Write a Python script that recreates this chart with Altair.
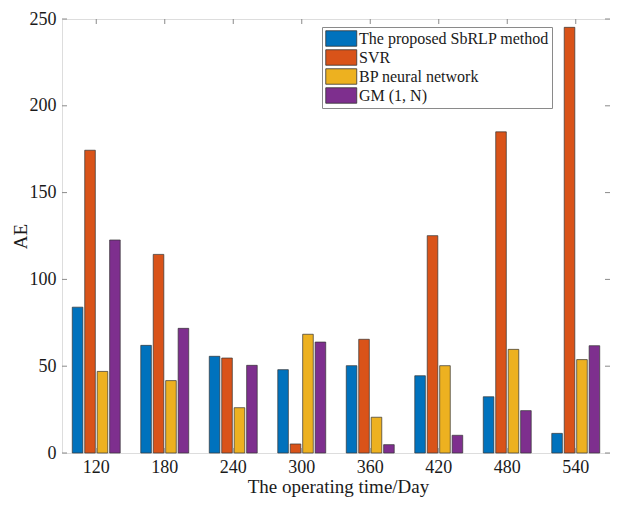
import altair as alt
import pandas as pd

days = ["120", "180", "240", "300", "360", "420", "480", "540"]
series = ["The proposed SbRLP method", "SVR", "BP neural network", "GM (1, N)"]
sbrlp = [84.0, 62.0, 55.7, 48.0, 50.3, 44.5, 32.4, 11.3]
svr = [174.4, 114.4, 54.7, 5.2, 65.5, 125.2, 185.0, 245.2]
bp = [47.0, 41.7, 26.1, 68.4, 20.6, 50.3, 59.7, 53.8]
gm = [122.7, 71.8, 50.5, 63.9, 4.8, 10.2, 24.4, 61.8]
colors = ["#0072BD", "#D95319", "#EDB120", "#7E2F8E"]
y_ticks = [0, 50, 100, 150, 200, 250]

rows = []
for name, vals in zip(series, [sbrlp, svr, bp, gm]):
    for d, v in zip(days, vals):
        rows.append({"day": d, "series": name, "AE": v})
df = pd.DataFrame(rows)
ydf = pd.DataFrame({"AE": y_ticks})
xdf = pd.DataFrame({"day": days})

W, H = 548, 434
LEFT = 62
FONT = "Liberation Serif"
FRAME = "#8a8a8a"
TXT = "#1a1a1a"

xscale = alt.Scale(domain=days, paddingInner=0.3, paddingOuter=0.15)
yscale = alt.Scale(domain=[0, 250], nice=False)

xaxis = alt.Axis(title="The operating time/Day", labelAngle=0, ticks=False, tickSize=0,
                 domain=False, labelPadding=19, labelBaseline="alphabetic",
                 labelFont=FONT, labelFontSize=18, labelColor=TXT,
                 titleFont=FONT, titleFontSize=19, titleFontWeight="normal",
                 titleColor=TXT, titleX=W / 2 + 2, titleY=39,
                 titleBaseline="alphabetic", titleAlign="center")
yaxis = alt.Axis(title="AE", values=y_ticks, grid=False, ticks=False, tickSize=0,
                 domain=False, labelPadding=6, labelFont=FONT, labelFontSize=18,
                 labelColor=TXT, titleFont=FONT, titleFontSize=19,
                 titleFontWeight="normal", titleColor=TXT, titleAngle=270,
                 titleX=26 - LEFT, titleY=H / 2, titleBaseline="alphabetic", titleAlign="center")

bars = alt.Chart(df).mark_bar(stroke="#333333", strokeWidth=0.7).encode(
    x=alt.X("day:N", scale=xscale, sort=days, axis=xaxis),
    xOffset=alt.XOffset("series:N", sort=series,
                        scale=alt.Scale(domain=series, paddingInner=0.15, paddingOuter=0)),
    y=alt.Y("AE:Q", scale=yscale, axis=yaxis),
    color=alt.Color("series:N", sort=series,
                    scale=alt.Scale(domain=series, range=colors),
                    legend=alt.Legend(title=None, orient="none", legendX=322 - LEFT, legendY=8,
                                      strokeColor=FRAME, fillColor="white", padding=3,
                                      labelFont=FONT, labelFontSize=16, labelColor=TXT,
                                      labelLimit=0, labelOffset=17, rowPadding=0,
                                      symbolType="M-1,-1H3V1H-1Z", symbolSize=240,
                                      symbolStrokeColor="#333333", symbolStrokeWidth=0.8,
                                      symbolOpacity=1)),
)

tick_y_left = alt.Chart(ydf).mark_rule(color=FRAME, strokeWidth=1).encode(
    y=alt.Y("AE:Q", scale=yscale), x=alt.value(0), x2=alt.value(5))
tick_y_right = alt.Chart(ydf).mark_rule(color=FRAME, strokeWidth=1).encode(
    y=alt.Y("AE:Q", scale=yscale), x=alt.value(W - 5), x2=alt.value(W))
tick_x_bottom = alt.Chart(xdf).mark_rule(color=FRAME, strokeWidth=1).encode(
    x=alt.X("day:N", scale=xscale, sort=days, bandPosition=0.5),
    y=alt.value(H - 5), y2=alt.value(H))
tick_x_top = alt.Chart(xdf).mark_rule(color=FRAME, strokeWidth=1).encode(
    x=alt.X("day:N", scale=xscale, sort=days, bandPosition=0.5),
    y=alt.value(0), y2=alt.value(5))

chart = alt.layer(bars, tick_y_left, tick_y_right, tick_x_bottom, tick_x_top).properties(
    width=W, height=H,
    autosize=alt.AutoSizeParams(type="none"),
    padding={"left": LEFT - 8, "top": 11, "right": 0, "bottom": 45},
).configure_view(stroke=FRAME, strokeWidth=1).configure(background="white")

chart.save("out.html", embed_options={"renderer": "svg", "actions": False})
